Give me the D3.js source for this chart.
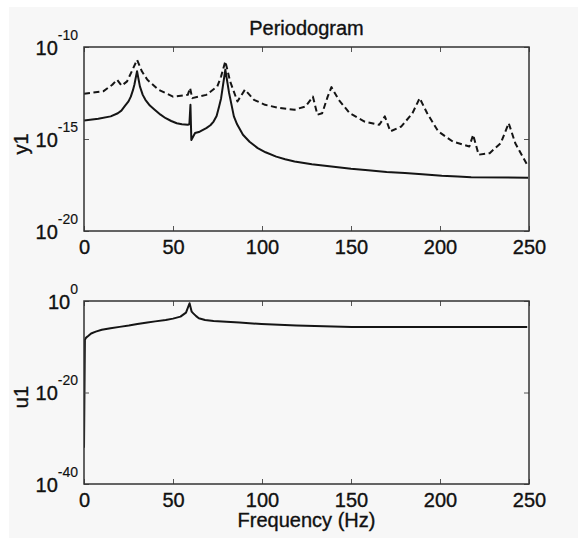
<!DOCTYPE html>
<html>
<head>
<meta charset="utf-8">
<script src="https://cdn.jsdelivr.net/npm/d3@7"></script>
<style>
  html, body { margin: 0; padding: 0; overflow: hidden; background: #ffffff; }
  svg { display: block; }
  text { font-family: "Liberation Sans", Arial, sans-serif; fill: #111; stroke: #111; stroke-width: 0.35px; }
</style>
</head>
<body>
<div id="chart"></div>
<script>
// periodogram of y1 (solid), dashed reference, and input u1
var freqY1 = [0, 8, 15, 19, 21, 23, 25, 26.3, 27.5, 28.3, 29.8, 31.4, 33, 34.5, 37, 39.7, 43, 45.9, 49, 52.1,
  55, 58.3, 59.2, 59.8, 60.3, 62.4, 65, 68.7, 71, 72.8, 74.5, 75.9, 77, 78, 79.4, 81.5, 83, 84.2, 86, 89.3,
  93, 97.6, 102, 108, 113, 118.3, 128, 139, 150, 159.6, 170, 180.3, 190, 201, 210, 217.5, 249.5];
var y1Solid = [1.0e-14, 1.26e-14, 1.7e-14, 2.5e-14, 3.5e-14, 6.3e-14, 1.1e-13, 2.0e-13, 4.5e-13, 8.9e-13,
  4.8e-12, 7.2e-13, 2.5e-13, 1.35e-13, 6.6e-14, 3.9e-14, 2.1e-14, 1.35e-14, 9.5e-15, 7.2e-15,
  6.3e-15, 5.9e-15, 6.3e-15, 7.2e-14, 8.9e-16, 2.1e-15, 2.5e-15, 3.9e-15, 5.6e-15, 8.9e-15, 1.8e-14,
  5.9e-14, 1.6e-13, 7.2e-13, 5.9e-12, 3.2e-13, 6.3e-14, 1.7e-14, 6.3e-15, 1.7e-15,
  7.1e-16, 3.2e-16, 1.9e-16, 1.1e-16, 7.9e-17, 6.0e-17, 4.2e-17, 3.2e-17, 2.4e-17, 2.0e-17, 1.6e-17,
  1.4e-17, 1.2e-17, 1.0e-17, 9.1e-18, 8.3e-18, 7.9e-18];

var freqDash = [0, 10.8, 15.9, 18.6, 21.1, 24.2, 27.3, 29.8, 32.5, 35.6, 41.8, 50, 58.3, 59.6, 60.8, 68.7,
  74.9, 77, 79.4, 82.1, 86.2, 90.4, 95.5, 101.7, 110, 118.3, 124.5, 128.6, 131.1, 133.8, 136.9, 139,
  143.1, 149.3, 157.6, 165.9, 169, 172.1, 178.3, 184.5, 188.6, 192.8, 199, 207.2, 216.5, 218.6, 221.7,
  227.9, 234.1, 238.6, 242.3, 249];
var y1Dash = [2.9e-13, 3.9e-13, 8.9e-13, 1.66e-12, 7.9e-13, 1.35e-12, 5.9e-12, 2.0e-11, 4.8e-12, 1.66e-12,
  4.8e-13, 2.0e-13, 2.5e-13, 5.9e-13, 1.66e-13, 2.5e-13, 7.2e-13, 2.5e-12, 1.66e-11, 1.35e-12, 1.1e-13,
  4.8e-13, 1.35e-13, 7.2e-14, 4.8e-14, 3.9e-14, 5.9e-14, 2.0e-13, 2.1e-14, 2.5e-14, 2.0e-13, 6.6e-13,
  1.35e-13, 2.5e-14, 8.9e-15, 5.9e-15, 1.7e-14, 2.6e-15, 4.8e-15, 2.5e-14, 1.66e-13, 2.5e-14, 2.6e-15,
  7.2e-16, 3.9e-16, 1.7e-15, 1.4e-16, 1.7e-16, 5.9e-16, 7.2e-15, 5.9e-16, 3.9e-17];

var freqU1 = [0, 0.5, 1.2, 2.5, 4, 6.6, 10, 14.9, 20, 25.2, 30, 35.6, 40, 45.9, 50, 54.2, 57.3, 59.3, 60.5,
  61.4, 63, 64.5, 68, 72.8, 80, 87.3, 99.7, 119.3, 150.3, 249];
var u1 = [8e-33, 3.2e-9, 1.0e-8, 2.5e-8, 7.9e-8, 2.0e-7, 5.0e-7, 1.1e-6, 2.2e-6, 4.2e-6, 8.9e-6, 1.9e-5,
  3.5e-5, 7.1e-5, 1.4e-4, 3.8e-4, 2.8e-3, 0.32, 4.7e-3, 2.0e-3, 5.0e-4, 1.7e-4, 7.1e-5, 4.4e-5, 2.8e-5,
  1.9e-5, 9.5e-6, 4.2e-6, 2.1e-6, 2.1e-6];

var xTicks = [0, 50, 100, 150, 200, 250];
var y1Ticks = [1e-20, 1e-15, 1e-10];
var u1Ticks = [1e-40, 1e-20, 1e0];

var W = 578, H = 538;
var svg = d3.select("#chart").append("svg").attr("width", W).attr("height", H);

// figure background (light grey with thin white strip at top/left)
svg.append("rect").attr("width", W).attr("height", H).attr("fill", "#ffffff");
svg.append("rect").attr("x", 9).attr("y", 7).attr("width", W - 9).attr("height", H - 7).attr("fill", "#f7f7f7");

var left = 84, right = 529;
var x = d3.scaleLinear().domain([0, 250]).range([left, right]);

function panel(top, bottom, yDomain, yTicks, ylabel, labelY, series) {
  var y = d3.scaleLog().domain(yDomain).range([bottom, top]);
  var clipId = "clip" + top;
  svg.append("clipPath").attr("id", clipId)
    .append("rect").attr("x", left).attr("y", top).attr("width", right - left).attr("height", bottom - top);

  series.forEach(function (s) {
    var pts = s.f.map(function (f, i) { return [f, s.v[i]]; });
    var line = d3.line()
      .x(function (d) { return x(d[0]); })
      .y(function (d) { return y(d[1]); });
    svg.append("path")
      .datum(pts)
      .attr("clip-path", "url(#" + clipId + ")")
      .attr("fill", "none")
      .attr("stroke", "#151515")
      .attr("stroke-width", 2)
      .attr("stroke-linejoin", "round")
      .attr("stroke-dasharray", s.dash ? "6,3.5" : null)
      .attr("d", line);
  });

  // bottom axis with labels, ticks inward
  var gx = svg.append("g").attr("transform", "translate(0," + bottom + ")")
    .call(d3.axisBottom(x).tickValues(xTicks).tickSize(-5).tickFormat(d3.format("d")));
  gx.selectAll("text").attr("y", 23).attr("dy", null).attr("fill", null).style("font-size", "20px");

  svg.append("g").attr("transform", "translate(0," + top + ")")
    .call(d3.axisTop(x).tickValues(xTicks).tickSize(-5).tickFormat(""));

  var gy = svg.append("g").attr("transform", "translate(" + left + ",0)")
    .call(d3.axisLeft(y).tickValues(yTicks).tickSize(-5).tickPadding(6));
  gy.selectAll(".tick text").each(function (d) {
    var t = d3.select(this);
    t.text(null).attr("dy", null).attr("y", 7).attr("fill", null).style("font-size", "20px");
    t.append("tspan").text("10");
    t.append("tspan").attr("dy", -15).style("font-size", "14px").style("stroke-width", "0.15px")
      .text(String(Math.round(Math.log10(d))));
  });

  svg.append("g").attr("transform", "translate(" + right + ",0)")
    .call(d3.axisRight(y).tickValues(yTicks).tickSize(-5).tickFormat(""));

  svg.selectAll(".domain").remove();
  svg.selectAll(".tick line").attr("stroke", "#555");

  svg.append("rect")
    .attr("x", left).attr("y", top)
    .attr("width", right - left).attr("height", bottom - top)
    .attr("fill", "none").attr("stroke", "#333").attr("stroke-width", 1.5);

  svg.append("text")
    .attr("transform", "translate(28," + labelY + ") rotate(-90)")
    .attr("text-anchor", "middle")
    .style("font-size", "20px")
    .text(ylabel);
}

panel(47, 231, [1e-20, 1e-10], y1Ticks, "y1", 144, [
  { f: freqDash, v: y1Dash, dash: true },
  { f: freqY1, v: y1Solid, dash: false }
]);
panel(301, 484, [1e-40, 1e0], u1Ticks, "u1", 397, [
  { f: freqU1, v: u1, dash: false }
]);

svg.append("text")
  .attr("x", (left + right) / 2).attr("y", 35)
  .attr("text-anchor", "middle")
  .style("font-size", "20px")
  .text("Periodogram");

svg.append("text")
  .attr("x", (left + right) / 2).attr("y", 527)
  .attr("text-anchor", "middle")
  .style("font-size", "20px")
  .text("Frequency (Hz)");
</script>
</body>
</html>
